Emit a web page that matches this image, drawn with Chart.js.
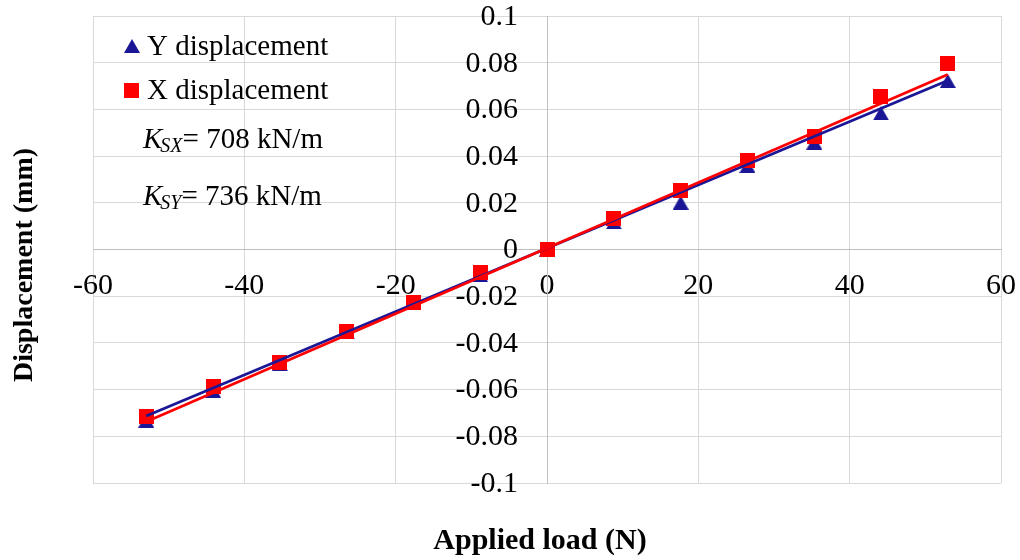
<!DOCTYPE html>
<html>
<head>
<meta charset="utf-8">
<script src="https://cdn.jsdelivr.net/npm/chart.js@4/dist/chart.umd.min.js"></script>
<style>
  html, body { margin: 0; padding: 0; background: #fff; }
  canvas { display: block; }
</style>
</head>
<body>
<canvas id="load-chart" width="1020" height="560"></canvas>
<script>
// applied load steps (N) and measured displacements (mm)
const loads = [-52.97, -44.14, -35.32, -26.49, -17.66, -8.83, 0, 8.83, 17.66, 26.49, 35.32, 44.14, 52.97];
const dispY = [-0.0733, -0.0605, -0.0491, -0.0355, -0.0227, -0.0110, 0, 0.0116, 0.0201, 0.0358, 0.0458, 0.0583, 0.0722];
const dispX = [-0.0717, -0.0588, -0.0482, -0.0350, -0.0225, -0.0098, 0, 0.0133, 0.0253, 0.0382, 0.0482, 0.0654, 0.0798];

// linear trend lines, end points
const fitLoads = [-52.97, 52.97];
const fitY = [-0.0713, 0.0724];
const fitX = [-0.0738, 0.0749];

const yTicks = [0.1, 0.08, 0.06, 0.04, 0.02, 0, -0.02, -0.04, -0.06, -0.08, -0.1];
const stiffness = [
    { sub: 'SX', text: '= 708 kN/m' },
    { sub: 'SY', text: '= 736 kN/m' }
];

const BLUE = '#1a1696';
const RED = '#ff0000';
const SERIF = "'Liberation Serif', 'Times New Roman', serif";

// marker images, centred on their bounding box
function triangleMarker(color) {
    const c = document.createElement('canvas');
    c.width = 16; c.height = 14;
    const g = c.getContext('2d');
    g.fillStyle = color;
    g.beginPath();
    g.moveTo(8, 0);
    g.lineTo(16, 14);
    g.lineTo(0, 14);
    g.closePath();
    g.fill();
    return c;
}
function squareMarker(color) {
    const c = document.createElement('canvas');
    c.width = 15; c.height = 15;
    const g = c.getContext('2d');
    g.fillStyle = color;
    g.fillRect(0, 0, 15, 15);
    return c;
}
const triImg = triangleMarker(BLUE);
const sqImg = squareMarker(RED);

const pts = (xs, ys) => xs.map((x, i) => ({ x: x, y: ys[i] }));

const gridColor = (c) => (c.tick && c.tick.value === 0) ? '#bfbfbf' : '#d9d9d9';

// y tick labels, legend, stiffness notes and axis titles
const annotations = {
    id: 'annotations',
    afterDraw(chart) {
        const ctx = chart.ctx;
        const xs = chart.scales.x, ys = chart.scales.y;
        const x0 = xs.getPixelForValue(0);
        ctx.save();
        ctx.fillStyle = '#000';

        ctx.font = '30px ' + SERIF;
        ctx.textAlign = 'right';
        ctx.textBaseline = 'middle';
        yTicks.forEach(v => {
            ctx.fillText(String(v), x0 - 29, ys.getPixelForValue(v) + 1);
        });

        // legend
        const a = chart.chartArea;
        ctx.textAlign = 'left';
        ctx.textBaseline = 'alphabetic';
        ctx.font = '29px ' + SERIF;
        ctx.drawImage(triImg, a.left + 31, a.top + 23);
        ctx.fillText('Y displacement', a.left + 54, a.top + 39);
        ctx.drawImage(sqImg, a.left + 31, a.top + 67);
        ctx.fillText('X displacement', a.left + 54, a.top + 83);

        // stiffness values
        stiffness.forEach((s, i) => {
            const base = a.top + 132 + i * 57;
            let x = a.left + 50;
            ctx.font = 'italic 29px ' + SERIF;
            ctx.fillText('K', x, base);
            x += ctx.measureText('K').width - 2;
            ctx.font = 'italic 20px ' + SERIF;
            ctx.fillText(s.sub, x, base + 3.5);
            x += ctx.measureText(s.sub).width;
            ctx.font = '29px ' + SERIF;
            ctx.fillText(s.text, x, base);
        });

        // axis titles
        ctx.textAlign = 'center';
        ctx.textBaseline = 'middle';
        ctx.font = 'bold 30px ' + SERIF;
        ctx.fillText('Applied load (N)', 540, 541);
        ctx.translate(25, 265);
        ctx.rotate(-Math.PI / 2);
        ctx.font = 'bold 28px ' + SERIF;
        ctx.fillText('Displacement (mm)', 0, 0);
        ctx.restore();
    }
};

new Chart(document.getElementById('load-chart'), {
    type: 'scatter',
    data: {
        datasets: [{
            label: 'X trend',
            data: pts(fitLoads, fitX),
            showLine: true,
            borderColor: RED,
            borderWidth: 2.75,
            pointRadius: 0,
            order: 0
        }, {
            label: 'Y trend',
            data: pts(fitLoads, fitY),
            showLine: true,
            borderColor: BLUE,
            borderWidth: 2.75,
            pointRadius: 0,
            order: 1
        }, {
            label: 'X displacement',
            data: pts(loads, dispX),
            pointStyle: sqImg,
            pointRadius: 8,
            backgroundColor: RED,
            borderColor: RED,
            order: 2
        }, {
            label: 'Y displacement',
            data: pts(loads, dispY),
            pointStyle: triImg,
            pointRadius: 8,
            backgroundColor: BLUE,
            borderColor: BLUE,
            order: 3
        }]
    },
    options: {
        responsive: false,
        animation: false,
        layout: { padding: { left: 93, right: 19, top: 16, bottom: 77 } },
        plugins: {
            legend: { display: false },
            tooltip: { enabled: false }
        },
        scales: {
            x: {
                type: 'linear',
                position: { y: 0 },
                min: -60,
                max: 60,
                ticks: {
                    stepSize: 20,
                    autoSkip: false,
                    maxRotation: 0,
                    padding: 0,
                    color: '#000',
                    font: { family: SERIF, size: 30 }
                },
                // invisible tick marks push the labels down below the axis
                grid: {
                    color: gridColor,
                    lineWidth: 1,
                    drawTicks: true,
                    tickLength: 19,
                    tickColor: 'rgba(0,0,0,0)'
                },
                border: { color: '#bfbfbf', width: 1 }
            },
            y: {
                type: 'linear',
                position: { x: 0 },
                min: -0.1,
                max: 0.1,
                ticks: { stepSize: 0.02, display: false },
                grid: { color: gridColor, lineWidth: 1, drawTicks: false },
                border: { color: '#bfbfbf', width: 1 }
            }
        }
    },
    plugins: [annotations]
});
</script>
</body>
</html>
